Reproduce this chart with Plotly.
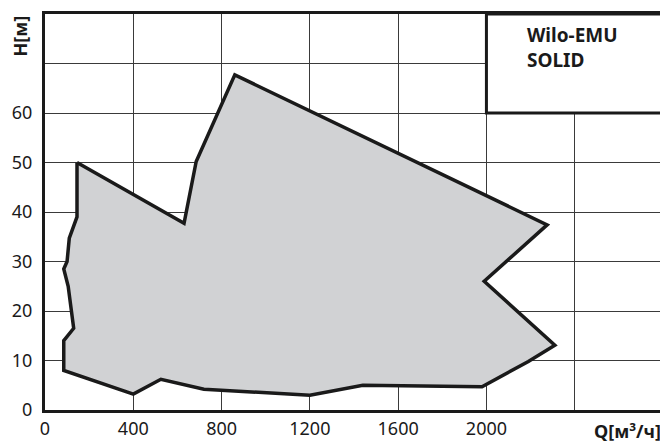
import plotly.graph_objects as go

# Envelope of the Wilo-EMU SOLID range (Q in m3/h, H in m)
q_env = [145, 145, 110, 100, 85, 105, 130, 85, 85, 250, 400, 525, 720, 1200, 1440, 1980, 2190, 2310, 1990, 2275, 860, 685, 630, 145]
h_env = [50, 39, 34.7, 30, 28.5, 25, 16.5, 14, 8, 5.5, 3.2, 6.2, 4.2, 3.0, 5.0, 4.7, 9.8, 13.1, 26, 37.4, 67.7, 50.2, 37.7, 50]

x_ticks = [0, 400, 800, 1200, 1600, 2000, 2400, 2800]
x_labels = ["0", "400", "800", "1200", "1600", "2000", "", ""]
y_ticks = [0, 10, 20, 30, 40, 50, 60, 70, 80]
y_labels = ["0", "10", "20", "30", "40", "50", "60", "", ""]

title_lines = ["Wilo-EMU", "SOLID"]

FONT = "Noto Sans"
INK = "#1a1a1a"

fig = go.Figure()
fig.add_trace(go.Scatter(
    x=q_env, y=h_env, mode="lines", fill="toself",
    fillcolor="#d1d2d4", line=dict(color=INK, width=3.5),
    hoverinfo="skip", showlegend=False,
))

fig.add_shape(type="rect", x0=2000, x1=2800, y0=60, y1=80, xref="x", yref="y",
              fillcolor="white", line=dict(color=INK, width=3), layer="above")
fig.add_annotation(x=2175, y=73.2, xref="x", yref="y", xanchor="left", yanchor="middle",
                   text="<b>" + "<br>".join(title_lines) + "</b>", align="left", showarrow=False,
                   font=dict(family=FONT, size=19, color=INK))

fig.add_annotation(xref="paper", yref="paper", x=0, y=1, xshift=-26, yshift=0, yanchor="top", xanchor="center",
                   text="<b>H[м]</b>", textangle=-90, showarrow=False,
                   font=dict(family=FONT, size=18, color=INK))
fig.add_annotation(xref="paper", yref="paper", x=1, y=0, yshift=-21, xanchor="right", yanchor="middle",
                   text="<b>Q[м³/ч]</b>", showarrow=False,
                   font=dict(family=FONT, size=18, color=INK))

fig.update_xaxes(range=[0, 2800], tickvals=x_ticks, ticktext=x_labels, showgrid=True,
                 gridcolor="#3a3a3a", gridwidth=1, showline=True, linecolor=INK,
                 linewidth=3, mirror=True, zeroline=False, ticks="", automargin=False,
                 tickfont=dict(family=FONT, size=18, color=INK))
fig.update_yaxes(range=[0, 80], tickvals=y_ticks, ticktext=y_labels, showgrid=True,
                 gridcolor="#3a3a3a", gridwidth=1, showline=True, linecolor=INK,
                 linewidth=3, mirror=True, zeroline=False, automargin=False,
                 ticks="outside", ticklen=6, tickcolor="rgba(0,0,0,0)",
                 tickfont=dict(family=FONT, size=18, color=INK))

# page body has an 8px margin, so the figure is 8px smaller on each leading edge
fig.update_layout(width=660, height=435, margin=dict(l=37, r=5, t=6, b=33),
                  plot_bgcolor="white", paper_bgcolor="white")

fig.write_html("out.html")
